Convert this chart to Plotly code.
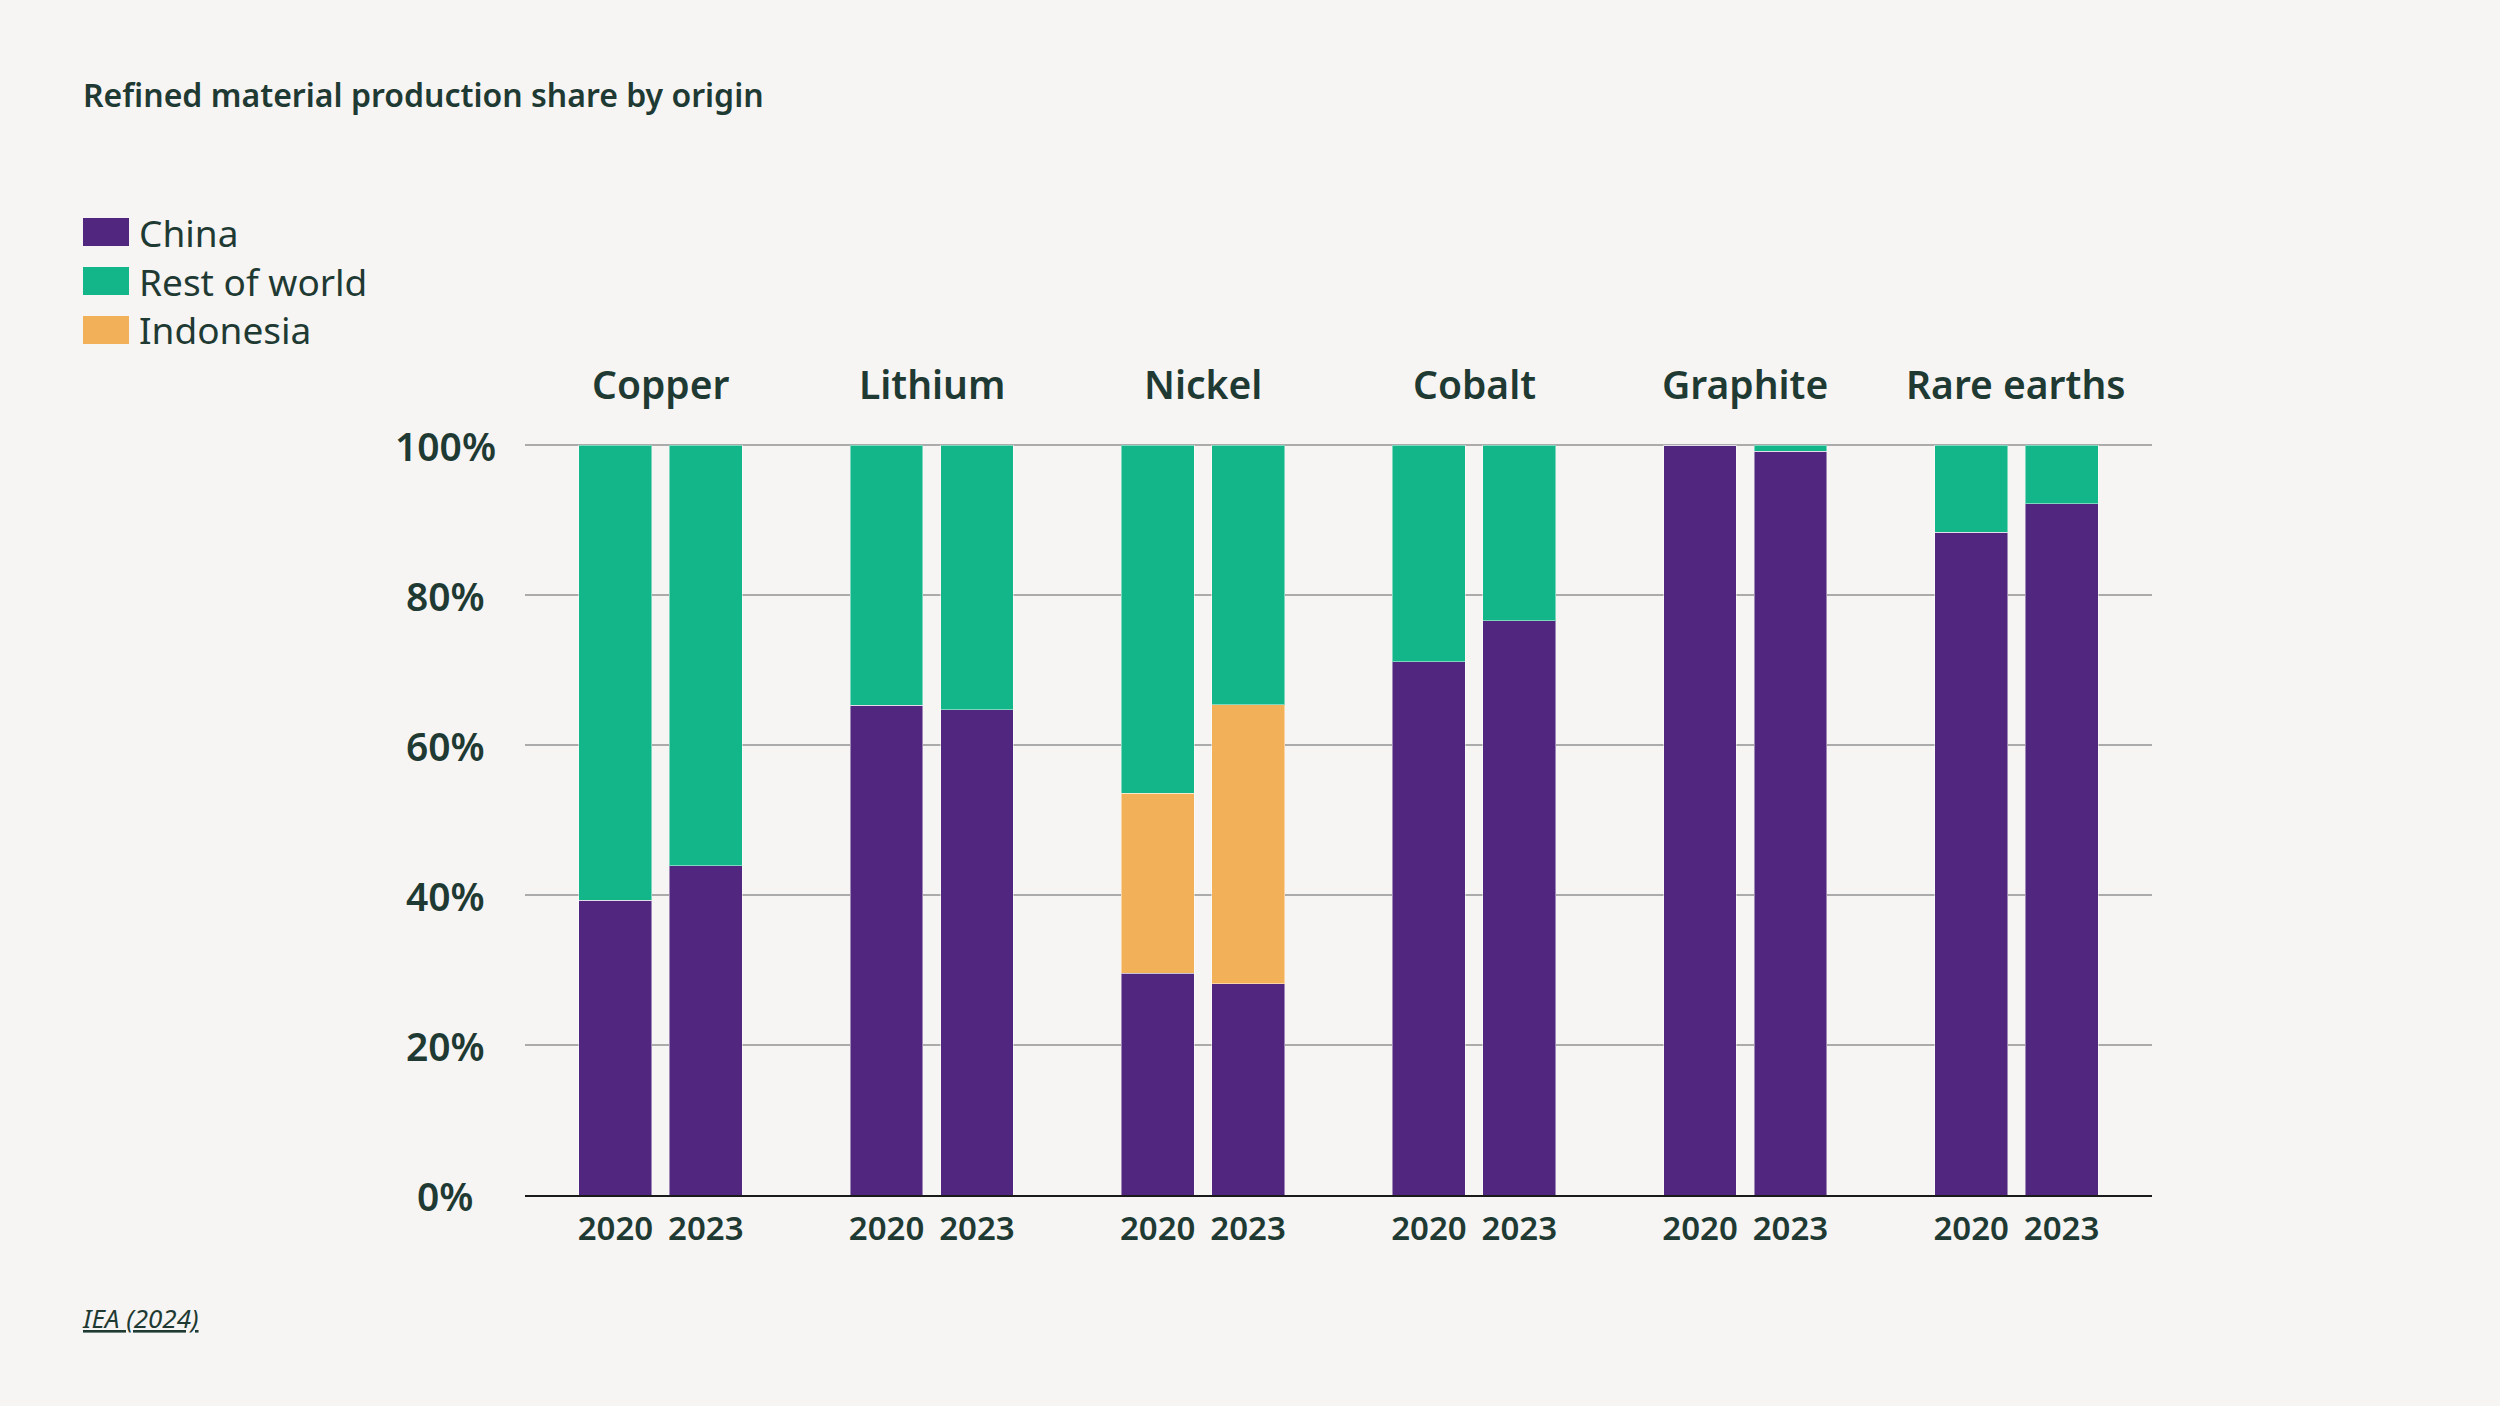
import plotly.graph_objects as go
from plotly.subplots import make_subplots

# ---- data ----
materials = ["Copper", "Lithium", "Nickel", "Cobalt", "Graphite", "Rare earths"]
years = ["2020", "2023"]
china = [[39.3, 43.9], [65.3, 64.7], [29.6, 28.2], [71.1, 76.6], [100.0, 99.2], [88.4, 92.2]]
indonesia = [[0.0, 0.0], [0.0, 0.0], [24.0, 37.2], [0.0, 0.0], [0.0, 0.0], [0.0, 0.0]]
rest_of_world = [[60.7, 56.1], [34.7, 35.3], [46.4, 34.6], [28.9, 23.4], [0.0, 0.8], [11.6, 7.8]]
y_ticks = [0, 20, 40, 60, 80, 100]
y_tick_labels = ["0%", "20%", "40%", "60%", "80%", "100%"]
series_names = ["China", "Rest of world", "Indonesia"]
source_text = "IEA (2024)"
title_text = "Refined material production share by origin"

# ---- style ----
C_CHINA = "#51267E"
C_ROW = "#13B689"
C_INDO = "#F2B058"
BG = "#F6F5F3"
TXT = "#1F3A33"
GRID = "#ABABAB"
FONT = "Noto Sans"

W, H = 2500, 1406
L, R, T, B = 525, 348, 443, 211
PW = W - L - R
PH = H - T - B
Y_TOP = 100 * PH / 750.0  # keep 100% gridline visible just inside the plot


def px_x(p):
    return (p - L) / PW


def px_y(p):
    return (H - B - p) / PH


fig = make_subplots(rows=1, cols=6, shared_yaxes=True, horizontal_spacing=0)

edge = dict(width=1, color="rgba(255,255,255,0.45)")
for i, m in enumerate(materials):
    col = i + 1
    fig.add_trace(go.Bar(x=years, y=china[i], name="China", marker=dict(color=C_CHINA, line=edge),
                         showlegend=False, legendgroup="China"), row=1, col=col)
    fig.add_trace(go.Bar(x=years, y=indonesia[i], name="Indonesia", marker=dict(color=C_INDO, line=edge),
                         showlegend=False, legendgroup="Indonesia"), row=1, col=col)
    fig.add_trace(go.Bar(x=years, y=rest_of_world[i], name="Rest of world", marker=dict(color=C_ROW, line=edge),
                         showlegend=False, legendgroup="Rest of world"), row=1, col=col)

fig.update_layout(
    width=W, height=H,
    margin=dict(l=L, r=R, t=T, b=B, pad=0),
    paper_bgcolor=BG, plot_bgcolor=BG,
    barmode="stack", bargap=0.194,
    font=dict(family=FONT, color=TXT),
    title=dict(text=title_text, x=83 / W, xanchor="left", xref="container",
               y=1 - 96 / H, yanchor="middle", yref="container",
               font=dict(family=FONT, size=32, color=TXT, weight=600)),
)

fig.update_xaxes(type="category", range=[-1, 2], showgrid=False, zeroline=False,
                 showline=True, linecolor="#1A1A1A", linewidth=2,
                 ticks="", ticklabelstandoff=3, tickangle=0,
                 tickfont=dict(family=FONT, size=33, color=TXT, weight=600),
                 fixedrange=True)
fig.update_yaxes(range=[0, Y_TOP], tickvals=y_ticks, ticktext=y_tick_labels,
                 showgrid=True, gridcolor=GRID, gridwidth=2, zeroline=False,
                 showline=False, ticks="", showticklabels=False, fixedrange=True)

annotations = []
# centered y tick labels (reference centres them in a column)
for v, lab in zip(y_ticks, y_tick_labels):
    annotations.append(dict(text=lab, xref="paper", x=px_x(445), xanchor="center",
                            yref="y", y=v, yanchor="middle", showarrow=False,
                            font=dict(family=FONT, size=39, color=TXT, weight=600)))

# material titles above groups
for i, m in enumerate(materials):
    xr = "x domain" if i == 0 else f"x{i + 1} domain"
    annotations.append(dict(text=m, xref=xr, x=0.5, xanchor="center",
                            yref="paper", y=px_y(383), yanchor="middle", showarrow=False,
                            font=dict(family=FONT, size=39, color=TXT, weight=600)))

# manual legend
legend_colors = [C_CHINA, C_ROW, C_INDO]
legend_centers = [232, 281, 330]
shapes = []
for name, colr, cy in zip(series_names, legend_colors, legend_centers):
    shapes.append(dict(type="rect", xref="paper", yref="paper",
                       x0=px_x(83), x1=px_x(129), y0=px_y(cy - 14), y1=px_y(cy + 14),
                       fillcolor=colr, line=dict(width=0)))
    annotations.append(dict(text=name, xref="paper", x=px_x(137), xanchor="left",
                            yref="paper", y=px_y(cy), yanchor="middle", showarrow=False,
                            font=dict(family=FONT, size=37, color=TXT)))

# source
annotations.append(dict(text=f"<i><u>{source_text}</u></i>", xref="paper", x=px_x(80), xanchor="left",
                        yref="paper", y=px_y(1318), yanchor="middle", showarrow=False,
                        font=dict(family=FONT, size=26, color=TXT)))

fig.update_layout(annotations=annotations, shapes=shapes)

fig.write_html("out.html",
               config={"displayModeBar": False},
               post_script="document.body.style.margin='0';document.body.style.padding='0';"
                           "document.documentElement.style.overflow='hidden';")
